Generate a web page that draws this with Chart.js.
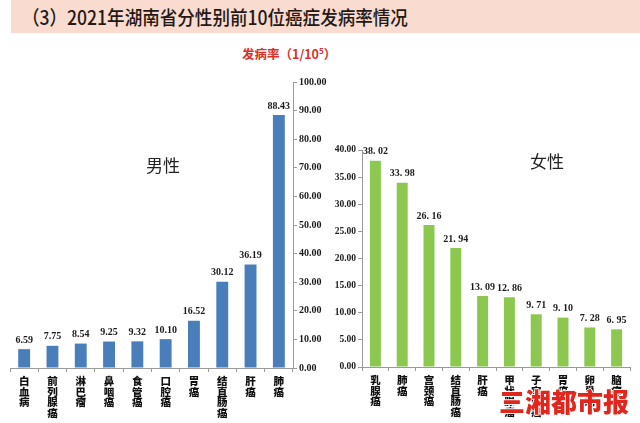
<!DOCTYPE html>
<html>
<head>
<meta charset="utf-8">
<script src="https://cdn.jsdelivr.net/npm/chart.js@4.4.1/dist/chart.umd.min.js"></script>
<style>
  html, body { margin: 0; padding: 0; background: #ffffff; }
  #wrap { position: relative; width: 640px; height: 423px; overflow: hidden; background: #fff; }
  #band { position: absolute; left: 11px; top: 0; width: 629px; height: 33px; background: #f9dbcf; }
  #title { position: absolute; left: 22px; top: 2px; font-family: "Noto Sans CJK SC", sans-serif; font-weight: 500; font-size: 19.5px; color: #231815; white-space: nowrap; transform: scaleX(0.9); transform-origin: left top; }
  #sub { position: absolute; left: 242px; top: 44px; font-family: "Noto Sans CJK SC", sans-serif; font-weight: 700; font-size: 12.5px; color: #d9312a; white-space: nowrap; }
  #sub sup { font-size: 8px; vertical-align: 5px; line-height: 0; }
  .sex { position: absolute; font-family: "Noto Sans CJK SC", sans-serif; font-size: 17px; color: #222; white-space: nowrap; }
  #male { left: 146px; top: 152px; }
  #female { left: 530px; top: 148px; }
  canvas { position: absolute; }
  #cm { left: 0; top: 60px; }
  #cf { left: 320px; top: 60px; }
  #wm { position: absolute; left: 499px; top: 382px; font-family: "Noto Sans CJK SC", sans-serif; font-weight: 900; font-size: 26px; color: #e3261d; white-space: nowrap; z-index: 5;
        text-shadow: 1px 0 0 #fff, -1px 0 0 #fff, 0 1px 0 #fff, 0 -1px 0 #fff; }
</style>
</head>
<body>
<div id="wrap">
  <div id="band"></div>
  <div id="title">（3）2021年湖南省分性别前10位癌症发病率情况</div>
  <div id="sub">发病率（1/10<sup>5</sup>）</div>
  <canvas id="cm" width="340" height="363"></canvas>
  <canvas id="cf" width="320" height="363"></canvas>
  <div class="sex" id="male">男性</div>
  <div class="sex" id="female">女性</div>
  <div id="wm">三湘都市报</div>
</div>
<script>
// ---- data ----
const maleCategories = ['白血病','前列腺癌','淋巴瘤','鼻咽癌','食管癌','口腔癌','胃癌','结直肠癌','肝癌','肺癌'];
const maleValues = [6.59, 7.75, 8.54, 9.25, 9.32, 10.10, 16.52, 30.12, 36.19, 88.43];
const femaleCategories = ['乳腺癌','肺癌','宫颈癌','结直肠癌','肝癌','甲状腺癌','子宫体癌','胃癌','卵巢癌','脑瘤'];
const femaleValues = [38.02, 33.98, 26.16, 21.94, 13.09, 12.86, 9.71, 9.10, 7.28, 6.95];
const maleAxisMax = 100, maleAxisStep = 10;
const femaleAxisMax = 40, femaleAxisStep = 5;

const AXIS = '#9a9a9a';
const TXT = '#1a1a1a';

function valueLabels(font, fmt, gap) {
  return {
    id: 'valueLabels',
    afterDatasetsDraw(chart) {
      const ctx = chart.ctx;
      const meta = chart.getDatasetMeta(0);
      const data = chart.data.datasets[0].data;
      ctx.save();
      ctx.font = font;
      ctx.fillStyle = TXT;
      ctx.textAlign = 'center';
      ctx.textBaseline = 'bottom';
      meta.data.forEach((el, i) => {
        ctx.fillText(fmt(data[i]), el.x, el.y - gap);
      });
      ctx.restore();
    }
  };
}

function makeChart(id, cats, vals, color, opts) {
  return new Chart(document.getElementById(id), {
    type: 'bar',
    data: {
      labels: cats.map(c => c.split('')),
      datasets: [{ data: vals, backgroundColor: color, borderWidth: 0, barPercentage: opts.barPct, categoryPercentage: 1 }]
    },
    options: {
      responsive: false,
      animation: false,
      devicePixelRatio: 1,
      layout: { padding: opts.padding },
      plugins: { legend: { display: false }, tooltip: { enabled: false } },
      scales: {
        x: {
          grid: { display: true, drawOnChartArea: false, drawTicks: true, tickLength: 4, color: AXIS, offset: true },
          border: { display: true, color: AXIS, width: 1 },
          ticks: { color: '#111', font: { family: '"Noto Sans CJK SC", sans-serif', weight: '900', size: 10.5, lineHeight: 1.0 }, maxRotation: 0, minRotation: 0, padding: 4, autoSkip: false },
          afterFit(s) { s.height = opts.xHeight; }
        },
        y: {
          position: opts.yPos,
          min: 0, max: opts.max,
          grid: { display: true, drawOnChartArea: false, drawTicks: true, tickLength: 4, color: AXIS },
          border: { display: true, color: AXIS, width: 1 },
          ticks: { stepSize: opts.step, color: TXT, padding: 2,
                   font: { family: '"Liberation Serif", serif', weight: 'bold', size: opts.yFont },
                   callback: v => Number(v).toFixed(2) },
          afterFit(s) { s.width = opts.yWidth; }
        }
      }
    },
    plugins: [valueLabels(opts.labelFont, opts.fmt, opts.gap)]
  });
}

makeChart('cm', maleCategories, maleValues, '#4a7ebb', {
  barPct: 0.42, padding: { left: 10, top: 22, right: 0, bottom: 0 },
  xHeight: 55, yWidth: 47, yPos: 'right', max: maleAxisMax, step: maleAxisStep, yFont: 10,
  labelFont: 'bold 10px "Liberation Serif", serif', fmt: v => v.toFixed(2), gap: 4
});

makeChart('cf', femaleCategories, femaleValues, '#8cc84f', {
  barPct: 0.41, padding: { left: 0, top: 90, right: 10, bottom: 0 },
  xHeight: 56, yWidth: 42, yPos: 'left', max: femaleAxisMax, step: femaleAxisStep, yFont: 9.5,
  labelFont: 'bold 10px "Liberation Serif", serif', fmt: v => v.toFixed(2).replace('.', '. '), gap: 4
});
</script>
</body>
</html>
